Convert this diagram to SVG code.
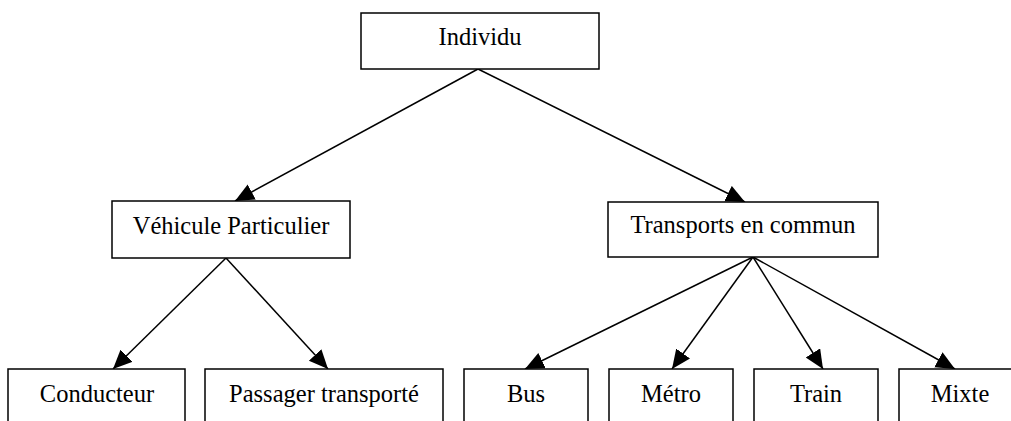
<svg xmlns="http://www.w3.org/2000/svg" width="1011" height="421" viewBox="0 0 1011 421">
<style>
.box{fill:#fff;stroke:#000;stroke-width:1.5}
.lbl{font-family:"Liberation Serif","Times New Roman",serif;font-size:24.5px;fill:#000;text-anchor:middle}
.edge{stroke:#000;stroke-width:1.5;fill:none;marker-end:url(#arr)}
</style>
<defs>
<marker id="arr" markerUnits="userSpaceOnUse" markerWidth="20" markerHeight="18" refX="19" refY="8.5" orient="auto">
<path d="M0,0 L19,8.5 L0,17 Z" fill="#000"/>
</marker>
</defs>
<rect width="1011" height="421" fill="#fff"/>
<g id="connectors">
<line class="edge" x1="478" y1="69" x2="235" y2="201"/>
<line class="edge" x1="478" y1="69" x2="745" y2="202"/>
<line class="edge" x1="226" y1="258" x2="113" y2="369"/>
<line class="edge" x1="226" y1="258" x2="328" y2="369"/>
<line class="edge" x1="753" y1="257" x2="525" y2="369"/>
<line class="edge" x1="753" y1="257" x2="672" y2="369"/>
<line class="edge" x1="753" y1="257" x2="823" y2="369"/>
<line class="edge" x1="753" y1="257" x2="955" y2="369"/>
</g>
<g id="individu">
<rect class="box" x="361" y="13" width="238" height="56"/>
<text class="lbl" x="480" y="45">Individu</text>
</g>
<g id="vehicule">
<rect class="box" x="112" y="201" width="238" height="57"/>
<text class="lbl" x="231" y="234">Véhicule Particulier</text>
</g>
<g id="transports">
<rect class="box" x="608" y="202" width="270" height="55"/>
<text class="lbl" x="743" y="233">Transports en commun</text>
</g>
<g id="conducteur">
<rect class="box" x="8" y="369" width="177" height="70"/>
<text class="lbl" x="97" y="402">Conducteur</text>
</g>
<g id="passager">
<rect class="box" x="205" y="369" width="238" height="70"/>
<text class="lbl" x="324" y="402">Passager transporté</text>
</g>
<g id="bus">
<rect class="box" x="464" y="369" width="124" height="70"/>
<text class="lbl" x="526" y="402">Bus</text>
</g>
<g id="metro">
<rect class="box" x="609" y="369" width="124" height="70"/>
<text class="lbl" x="671" y="402">Métro</text>
</g>
<g id="train">
<rect class="box" x="754" y="369" width="124" height="70"/>
<text class="lbl" x="816" y="402">Train</text>
</g>
<g id="mixte">
<rect class="box" x="899" y="369" width="124" height="70"/>
<text class="lbl" x="960" y="402">Mixte</text>
</g>
</svg>
